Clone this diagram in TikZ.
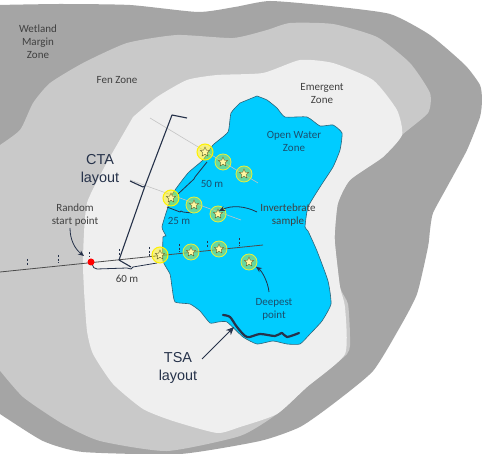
\documentclass[tikz,border=0pt]{standalone}
\usepackage{fontspec}
\setmainfont{Carlito}
\newfontfamily\arialfont{Liberation Sans}
\usetikzlibrary{shapes.geometric,arrows.meta}
\definecolor{margin}{HTML}{A5A5A5}
\definecolor{fen}{HTML}{C9C9C9}
\definecolor{emergent}{HTML}{EFEFEF}
\definecolor{water}{HTML}{00CCFF}
\definecolor{shore}{HTML}{2F6478}
\definecolor{navy}{HTML}{26324A}
\definecolor{lbl}{HTML}{404040}
\definecolor{waterlbl}{HTML}{1B4F6E}
\definecolor{ring}{HTML}{E8F03A}
\definecolor{tran}{HTML}{C4C4C4}
\definecolor{stfill}{HTML}{B9E352}
\definecolor{starfill}{HTML}{FFF6A0}
\definecolor{starline}{HTML}{6A6A30}
\tikzset{
  zone/.style={draw=none},
  small/.style={font=\fontsize{11}{13}\selectfont,text=lbl,align=center,inner sep=0pt},
  waterl/.style={small,text=waterlbl},
  big/.style={font=\arialfont\fontsize{14.4}{18.5}\selectfont,text=navy,align=center,inner sep=0pt},
  bigst/.style={circle,draw=yellow,line width=1pt,fill=yellow,fill opacity=.45,draw opacity=1,minimum size=16pt,inner sep=0pt},
  smallst/.style={circle,draw=ring,line width=.8pt,fill=stfill,fill opacity=.55,draw opacity=1,minimum size=16pt,inner sep=0pt},
  starmark/.style={star,star points=5,star point ratio=2.2,draw=starline,line width=.4pt,fill=starfill,minimum size=10pt,inner sep=0pt},
  tick/.style={draw=navy,line width=1pt,dash pattern=on 2.4pt off 1.2pt},
  brace/.style={draw=navy,line width=.8pt,line join=round},
  layout/.style={draw=navy,line width=1.1pt,line join=round},
  callout/.style={draw=navy,line width=.8pt,-{Stealth[length=6pt,width=5pt]}},
}
\begin{document}
\begin{tikzpicture}[x=1pt,y=-1pt]
\useasboundingbox (0,0) rectangle (482,454);
\begin{scope}
\clip (0,0) rectangle (482,454);
\fill[white] (0,0) rectangle (482,454);
% Wetland margin zone
\fill[margin] plot[smooth,tension=.35] coordinates {(-3,5) (60,4) (130,5) (198,12) (235,7) (270,1) (330,6) (390,14) (430,35) (465,65) (480,85) (482,100) (480,117) (467,150) (447,187) (433,213) (430,230) (428,247) (417,294) (400,327) (373,371) (333,404) (300,427) (260,441) (180,454) (83,452) (43,441) (0,414) (-3,412)} -- cycle;
% Fen zone
\fill[fen] plot[smooth,tension=.35] coordinates {(-3,147) (20,130) (33,103) (50,83) (83,63) (127,43) (177,35) (233,38) (267,30) (290,23) (333,24) (377,37) (410,63) (430,93) (428,113) (402,135) (383,157) (350,180) (338,203) (335,230) (335,244) (340,287) (348,304) (350,337) (347,354) (307,387) (277,414) (240,436) (167,451) (100,441) (63,424) (23,397) (-3,367)} -- cycle;
% Emergent zone
\fill[emergent] plot[smooth,tension=.35] coordinates {(133,117) (157,97) (187,80) (217,75) (263,73) (300,60) (333,63) (373,80) (397,110) (402,135) (383,157) (350,180) (338,203) (335,230) (335,244) (340,287) (345,307) (345,354) (307,387) (277,414) (240,427) (217,433) (173,421) (143,409) (113,384) (93,354) (87,331) (84,290) (83,257) (87,203) (110,157)} -- cycle;
% Open water zone
\filldraw[fill=water,draw=shore,line width=.6pt] plot[smooth,tension=.3] coordinates {(257,96) (267,100) (277,108) (285,117) (307,117) (320,126) (333,125) (342,133) (340,150) (333,167) (320,187) (308,207) (305,227) (308,231) (317,251) (328,281) (331,304) (322,321) (310,334) (300,344) (287,344) (273,341) (257,344) (243,337) (227,322) (218,322) (210,323) (200,311) (190,304) (175,302) (172,287) (170,274) (163,261) (163,237) (166,236) (162,227) (168,207) (173,193) (188,173) (203,160) (213,145) (228,132) (231,113) (240,103)} -- cycle;
\end{scope}

% Labels
\node[small] (lwet) at (38,42) {Wetland\\Margin\\Zone};
\node[small] (lfen) at (117,80) {Fen Zone};
\node[small] (lem) at (322,94) {Emergent\\Zone};
\node[waterl] (lopen) at (294,141) {Open Water\\Zone};
\node[big] (lcta) at (100,170) {CTA\\layout};
\node[small] (lrand) at (75,215) {Random\\start point};
\node[small] (l60) at (127,279) {60 m};
\node[waterl] (l50) at (212,184) {50 m};
\node[waterl] (l25) at (179,221) {25 m};
\node[small] (linv) at (288,215) {Invertebrate\\sample};
\node[waterl] (ldeep) at (274,309) {Deepest\\point};
\node[big] (ltsa) at (178,368) {TSA\\layout};

% Named points
\coordinate (ta) at (150,118);
\coordinate (tb) at (258,183);
\coordinate (tc) at (130,180);
\coordinate (td) at (241,220);
\coordinate (ma) at (0,272);
\coordinate (mb) at (263,245);

% CTA transects
\draw[tran,line width=.6pt] (ta) -- (tb);
\draw[tran,line width=.6pt] (tc) -- (td);
% main transect
\draw[draw=black!70,line width=.8pt] (ma) -- (mb);
\foreach \x/\a/\b in {27/259/266,58/255/263,89/252/257,119/249/255,149/247/256,179/244/252,207/241/247,239/238/246}
  \draw[tick] (\x,\a) -- (\x,\b);

% brackets
\coordinate (c1) at (119,260);
\coordinate (c2) at (131,267);
\coordinate (c3) at (145,186);
\coordinate (c4) at (130,181);
\coordinate (c5) at (172,115);
\coordinate (c6) at (187,118);
\draw[layout] (c4) -- (143,187) -- (c3);
\draw[layout] (c6) -- (c5) -- (c3) -- (c1) -- (c2);
\draw[brace] (92,264) .. controls (93,267) and (94,269) .. (97,269) -- (127,268) -- (131,269) -- (133,267) -- (157,263);
\draw[brace] (207,162) -- (195,177) -- (194,179) -- (178,194);
\draw[brace] (167,207) -- (180,212) -- (181,211) -- (183,212) -- (192,213);

% Stations
\node[bigst] (s1) at (205,152) {};
\node[smallst] (s2) at (223,162) {};
\node[smallst] (s3) at (244,174) {};
\node[bigst] (s4) at (171,198) {};
\node[smallst] (s5) at (194,205) {};
\node[smallst] (s6) at (218,214) {};
\node[bigst] (s7) at (160,255) {};
\node[smallst] (s8) at (191,252) {};
\node[smallst] (s9) at (219,249) {};
\node[smallst] (s10) at (249,262) {};
\foreach \s in {s1,s2,s3,s4,s5,s6,s7,s8,s9,s10}
  \node[starmark] (star\s) at (\s) {};

% Random point
\node[circle,fill=red,minimum size=7pt,inner sep=0pt] (rp) at (91,262) {};

% TSA layout
\coordinate (tsa1) at (223,315);
\coordinate (tsa2) at (299,333);
\draw[navy,line width=2.2pt,line cap=round,line join=round] plot[smooth,tension=.5] coordinates {(tsa1) (230,317) (237,327) (247,337) (260,334) (275,336) (282,333) (287,337) (tsa2)};

% Callouts
\coordinate (crand) at (70,228);
\coordinate (ctsa) at (234,327);
\coordinate (cdeep) at (269,292);
\coordinate (cinv) at (257,212);
\draw[callout] (crand) .. controls (70,240) and (75,249) .. (84,256);
\draw[callout,-{Stealth[length=8pt,width=7pt]}] (202,359) -- (ctsa);
\draw[callout] (cdeep) .. controls (268,282) and (262,271) .. (s10.-35);
\draw[callout] (cinv) .. controls (245,206) and (232,205) .. (219,211);
\end{tikzpicture}
\end{document}
